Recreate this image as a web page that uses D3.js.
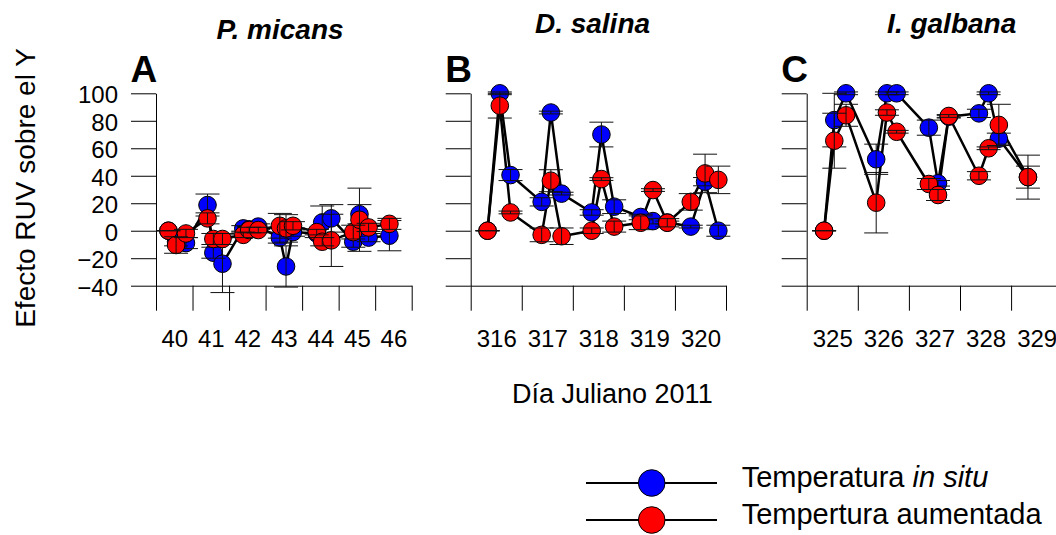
<!DOCTYPE html>
<html>
<head>
<meta charset="utf-8">
<title>Efecto RUV sobre el Y</title>
<style>
body { margin: 0; background: #fff; }
svg text { font-family: "Liberation Sans", Arial, sans-serif; fill: #000; }
</style>
</head>
<body>
<svg width="1056" height="535"></svg>
<script src="https://cdn.jsdelivr.net/npm/d3@7"></script>
<script>

// P. micans (panel A)
var labelsA = [40, 41, 42, 43, 44, 45, 46];
var daysA = [39.84, 40.05, 40.32, 40.91, 41.07, 41.32, 41.89, 42.05, 42.30, 42.89, 43.06, 43.25, 43.90, 44.05, 44.30, 44.90, 45.07, 45.32, 45.89];
var inSituA = [0, -8, -9, 18.7, -16, -24, 1.7, 1, 3, -5, -26, -1, -2, 6, 9, -8, 12, -5, -3.6];
var inSituErrA = [0, 3, 4, 8, 4, 21, 2, 2, 2, 4, 15, 3, 3, 12, 10, 4, 7, 3, 11];
var raisedA = [0, -10.4, -2, 9, -6, -6, -3, 0.5, 0.5, 3.6, 1.7, 3.6, -1, -8, -7, -1, 8, 2.4, 5];
var raisedErrA = [0, 6, 3, 4, 4, 4, 2, 2, 2, 9, 10, 3, 2, 3, 19, 5, 23, 3, 4];

// D. salina (panel B)
var labelsB = [316, 317, 318, 319, 320];
var daysB = [315.83, 316.07, 316.28, 316.89, 317.07, 317.28, 317.87, 318.06, 318.31, 318.83, 319.07, 319.35, 319.81, 320.09, 320.35];
var inSituB = [0, 100, 40.5, 21, 86, 27, 13.3, 70, 17.5, 10, 7, 6, 3, 35.7, 0];
var inSituErrB = [0, 1, 4, 3, 1, 1, 2, 9, 5, 2, 2, 1, 1, 3, 4];
var raisedB = [0, 91, 13.3, -3, 36.4, -4, 0, 37.6, 3, 5.8, 29.6, 5.8, 21, 41.7, 37];
var raisedErrB = [0, 9, 1, 5, 8, 6, 2, 1, 4, 5, 1, 3, 6, 14, 10];

// I. galbana (panel C)
var labelsC = [325, 326, 327, 328, 329];
var daysC = [324.84, 325.04, 325.27, 325.86, 326.07, 326.26, 326.89, 327.07, 327.28, 327.87, 328.06, 328.26, 328.83];
var inSituC = [0, 80.5, 100, 52, 100, 100, 75, 34.5, 83, 85.4, 100, 67, 39];
var inSituErrC = [0, 19.5, 1, 11, 1, 1, 5.5, 2, 1, 3, 1, 4, 8];
var raisedC = [0, 65.5, 84, 20.4, 86, 72, 34, 26, 83.5, 40, 60, 77, 39];
var raisedErrC = [0, 20, 8, 22, 2, 1, 4, 4, 1, 3, 1, 15, 16];

var yTicks = [-40, -20, 0, 20, 40, 60, 80, 100];
var blue = "#0000ff", red = "#ff0000";

var svg = d3.select("svg");

var y = d3.scaleLinear().domain([-40, 100]).range([285.7, 93.3]);
var bottom = y(-40);

var panels = [
  {title: "P. micans", letter: "A", labels: labelsA, days: daysA, blue: inSituA, blueErr: inSituErrA, red: raisedA, redErr: raisedErrA, left: 156, right: 411.7, titleX: 280, titleY: 39, yLabels: true},
  {title: "D. salina", letter: "B", labels: labelsB, days: daysB, blue: inSituB, blueErr: inSituErrB, red: raisedB, redErr: raisedErrB, left: 470.7, right: 726, titleX: 592.5, titleY: 33, yLabels: false},
  {title: "I. galbana", letter: "C", labels: labelsC, days: daysC, blue: inSituC, blueErr: inSituErrC, red: raisedC, redErr: raisedErrC, left: 806.7, right: 1062.2, titleX: 951.7, titleY: 33, yLabels: false}
];

function cleanAxis(sel) {
  sel.attr("font-size", null).attr("font-family", null);
  sel.selectAll("line, path").attr("stroke", "#000");
}

panels.forEach(function(p) {
  var first = p.labels[0], last = p.labels[p.labels.length - 1];
  var x = d3.scaleLinear().domain([first - 0.5, last + 0.5]).range([p.left, p.right]);
  var g = svg.append("g");

  // y axis, ticks pointing out to the left
  var yAxis = d3.axisLeft(y).tickValues(yTicks).tickSize(25).tickSizeOuter(0).tickPadding(13);
  if (!p.yLabels) yAxis.tickFormat("");
  g.append("g")
      .attr("transform", "translate(" + p.left + ",0)")
      .call(yAxis)
      .call(cleanAxis)
    .selectAll("text")
      .attr("font-size", 24)
      .attr("dy", "0.4em");

  // x axis: tick marks between days, day numbers centred in each day
  g.append("g")
      .attr("transform", "translate(0," + bottom + ")")
      .call(d3.axisBottom(x).tickValues(d3.range(first - 0.5, last + 1, 1)).tickSize(25).tickSizeOuter(0).tickFormat(""))
      .call(cleanAxis);

  var xl = g.append("g")
      .attr("transform", "translate(0," + bottom + ")")
      .call(d3.axisBottom(x).tickValues(p.labels).tickSize(0).tickFormat(d3.format("d")))
      .call(cleanAxis);
  xl.select(".domain").remove();
  xl.selectAll("text").attr("y", 61).attr("dy", null).attr("font-size", 24);

  // titles
  svg.append("text")
      .attr("x", p.titleX).attr("y", p.titleY)
      .attr("text-anchor", "middle")
      .attr("font-size", 28)
      .attr("font-weight", "bold")
      .attr("font-style", "italic")
      .text(p.title);

  svg.append("text")
      .attr("x", p.left - 25.5).attr("y", 82)
      .attr("font-size", 37)
      .attr("font-weight", "bold")
      .text(p.letter);

  var series = [
    {vals: p.blue, err: p.blueErr, color: blue},
    {vals: p.red, err: p.redErr, color: red}
  ];

  var line = d3.line()
      .x(function(d) { return x(d[0]); })
      .y(function(d) { return y(d[1]); });

  series.forEach(function(s) {
    g.append("path")
        .datum(d3.zip(p.days, s.vals))
        .attr("fill", "none")
        .attr("stroke", "#000")
        .attr("stroke-width", 2.5)
        .attr("stroke-linejoin", "round")
        .attr("d", line);
  });

  series.forEach(function(s) {
    var pts = d3.zip(p.days, s.vals, s.err);
    var sg = g.append("g");

    sg.selectAll("circle")
        .data(pts)
      .enter().append("circle")
        .attr("cx", function(d) { return x(d[0]); })
        .attr("cy", function(d) { return y(d[1]); })
        .attr("r", 8.8)
        .attr("fill", s.color)
        .attr("stroke", "#000")
        .attr("stroke-width", 1);

    // error bars
    var eb = sg.selectAll(".err")
        .data(pts)
      .enter().append("g")
        .attr("class", "err")
        .attr("stroke", "#111")
        .attr("stroke-width", 1);
    eb.append("line")
        .attr("x1", function(d) { return x(d[0]); })
        .attr("x2", function(d) { return x(d[0]); })
        .attr("y1", function(d) { return y(d[1] + d[2]); })
        .attr("y2", function(d) { return y(d[1] - d[2]); });
    [1, -1].forEach(function(sign) {
      eb.append("line")
          .attr("x1", function(d) { return x(d[0]) - 12; })
          .attr("x2", function(d) { return x(d[0]) + 12; })
          .attr("y1", function(d) { return y(d[1] + sign * d[2]); })
          .attr("y2", function(d) { return y(d[1] + sign * d[2]); });
    });
  });
});

// axis titles
svg.append("text")
    .attr("transform", "translate(35,188) rotate(-90)")
    .attr("text-anchor", "middle")
    .attr("font-size", 28)
    .text("Efecto RUV sobre el Y");

svg.append("text")
    .attr("x", 512).attr("y", 403)
    .attr("font-size", 27)
    .text("Día Juliano 2011");

// legend
var legendRows = [
  {color: blue, y: 483, text: "Temperatura ", italic: "in situ"},
  {color: red, y: 520, text: "Tempertura aumentada", italic: ""}
];

var lg = svg.selectAll(".legend")
    .data(legendRows)
  .enter().append("g")
    .attr("class", "legend")
    .attr("transform", function(d) { return "translate(0," + d.y + ")"; });

lg.append("line")
    .attr("x1", 586).attr("x2", 717)
    .attr("stroke", "#000")
    .attr("stroke-width", 2);

lg.append("circle")
    .attr("cx", 651.7)
    .attr("r", 13.3)
    .attr("fill", function(d) { return d.color; })
    .attr("stroke", "#000")
    .attr("stroke-width", 1);

var lt = lg.append("text")
    .attr("x", 741.7)
    .attr("y", 4)
    .attr("font-size", 29);
lt.append("tspan").text(function(d) { return d.text; });
lt.append("tspan").attr("font-style", "italic").text(function(d) { return d.italic; });

</script>
</body>
</html>
